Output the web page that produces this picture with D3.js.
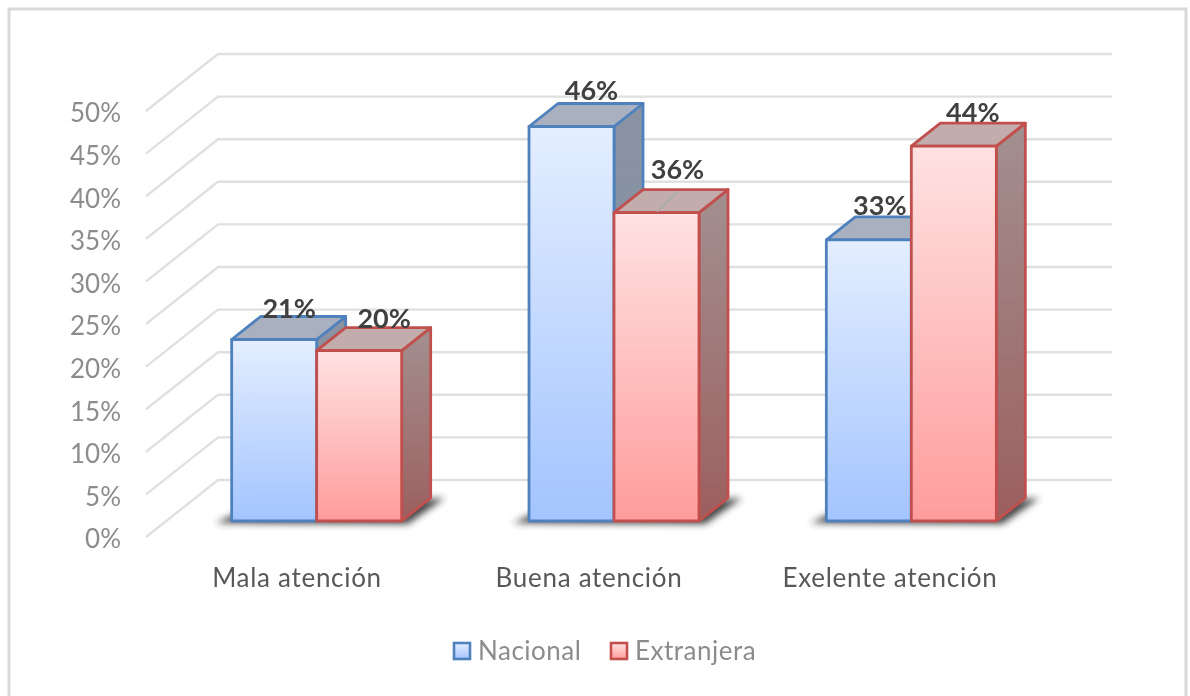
<!DOCTYPE html>
<html><head><meta charset="utf-8"><style>html,body{margin:0;background:#fff}svg{display:block}text{font-family:Lato,sans-serif}</style>
<script src="https://cdn.jsdelivr.net/npm/d3@7"></script></head><body><svg id="c" width="1190" height="696"></svg>
<script>
const categories=["Mala atención","Buena atención","Exelente atención"];
const seriesNames=["Nacional","Extranjera"];
const nacional=[21.3,46.3,33];
const extranjera=[20,36.2,44];
const nacionalLabels=["21%","46%","33%"];
const extranjeraLabels=["20%","36%","44%"];
const ticks=[0,5,10,15,20,25,30,35,40,45,50];

const svg=d3.select("#c");
const defs=svg.append("defs");
function grad(id,a,b){const g=defs.append("linearGradient").attr("id",id).attr("x1",0).attr("y1",0).attr("x2",0).attr("y2",1);
 g.append("stop").attr("offset",0).attr("stop-color",a);g.append("stop").attr("offset",1).attr("stop-color",b);}
grad("gB","#e4eeff","#a3c4ff");grad("gR","#ffe2e2","#ff9c9c");
grad("sB","#8a93a3","#7f8fa6");grad("sR","#a39090","#9c5f5f");
const sh=defs.append("filter").attr("id","sh").attr("x","-20%").attr("y","-50%").attr("width","140%").attr("height","200%");
sh.append("feGaussianBlur").attr("stdDeviation",3.5);
const soft=defs.append("filter").attr("id","soft");soft.append("feGaussianBlur").attr("stdDeviation",0.6);

const root=svg.append("g").attr("filter","url(#soft)");
root.append("rect").attr("x",9).attr("y",9).attr("width",1177).attr("height",692).attr("fill","#fff").attr("stroke","#d9d9d9").attr("stroke-width",3);

const y=d3.scaleLinear().domain([0,50]).range([537,111]);
const wall={dx:72,dy:-57,right:1112,left:146};
const baseY=d3.scaleLinear().domain([0,50]).range([521,95]);
const x0=d3.scaleBand().domain(categories).range([168,1060]).padding(0);
const x1=d3.scaleBand().domain(seriesNames).range([0,170]);
const barDepth={dx:29,dy:-23};
const cx=c=>x0(c)+x0.bandwidth()/2;

ticks.forEach(t=>{
 root.append("path").attr("fill","none").attr("stroke","#e0e0e0").attr("stroke-width",2.4)
 .attr("d",d3.line()([[wall.left,y(t)],[wall.left+wall.dx,y(t)+wall.dy],[wall.right,y(t)+wall.dy]]));
});
const ax=root.append("g").attr("transform",`translate(${wall.left-25},0)`).call(d3.axisLeft(y).tickValues(ticks).tickSize(0).tickPadding(0).tickFormat(d=>d+"%"));
ax.select(".domain").remove();
ax.selectAll("text").attr("font-size",26).attr("fill","#8c8c8c").attr("font-family","Lato,sans-serif").attr("dy","0.42em");

const series=[
 {name:"Nacional",vals:nacional,labels:nacionalLabels,stroke:"#4f81bd",front:"url(#gB)",side:"url(#sB)",top:"#a9b1c1",off:[[-2,-9],[3,-14],[-6,-12]]},
 {name:"Extranjera",vals:extranjera,labels:extranjeraLabels,stroke:"#c0504d",front:"url(#gR)",side:"url(#sR)",top:"#c2acac",off:[[8,-10],[4,-21],[2,-11]]}
];
categories.forEach(c=>{
 const l=cx(c)-85,r=cx(c)+85,b=baseY(0);
 root.append("path").attr("filter","url(#sh)").attr("fill","#303030").attr("opacity",.9)
 .attr("d",d3.line()([[l-16,b+2],[l+6,b-8],[r+barDepth.dx+14,b+barDepth.dy],[r+6,b+3]]));
});
categories.forEach((c,i)=>{
 series.forEach(s=>{
  const l=cx(c)-85+x1(s.name),r=l+x1.bandwidth(),t=baseY(s.vals[i]),b=baseY(0),dx=barDepth.dx,dy=barDepth.dy;
  const g=root.append("g").attr("stroke",s.stroke).attr("stroke-width",2.8).attr("stroke-linejoin","round");
  g.append("path").attr("fill",s.side).attr("d",d3.line()([[r,t],[r+dx,t+dy],[r+dx,b+dy],[r,b]])+"Z");
  g.append("path").attr("fill",s.top).attr("d",d3.line()([[l,t],[l+dx,t+dy],[r+dx,t+dy],[r,t]])+"Z");
  g.append("path").attr("fill",s.front).attr("d",d3.line()([[l,t],[r,t],[r,b],[l,b]])+"Z");
  if(s.name==="Extranjera"&&i===1){
   root.append("path").attr("stroke","#adadad").attr("stroke-width",2).attr("fill","none")
    .attr("d",d3.line()([[l+43,t-1],[l+63,t+dy+3]]));
  }
 });
});
categories.forEach((c,i)=>{
 series.forEach(s=>{
  const l=cx(c)-85+x1(s.name),mid=l+x1.bandwidth()/2+barDepth.dx/2+2.5,t=baseY(s.vals[i])+barDepth.dy;
  root.append("text").attr("x",mid+s.off[i][0]).attr("y",t+10+s.off[i][1]).attr("text-anchor","middle").attr("font-size",27).attr("font-weight",700).attr("fill","#404040").text(s.labels[i]);
 });
});
const catX=[297,589,890];
categories.forEach((c,i)=>{
 root.append("text").attr("x",catX[i]).attr("y",587).attr("text-anchor","middle").attr("font-size",26).attr("fill","#595959").attr("letter-spacing",0.7).text(c);
});
const lg=[{x:454,tx:478},{x:611,tx:635}];
series.forEach((s,i)=>{
 root.append("rect").attr("x",lg[i].x).attr("y",643).attr("width",16).attr("height",16).attr("fill",s.front).attr("stroke",s.stroke).attr("stroke-width",2.6);
 root.append("text").attr("x",lg[i].tx).attr("y",660).attr("font-size",26).attr("fill","#8c8c8c").attr("letter-spacing",0.5).text(s.name);
});
</script></body></html>
